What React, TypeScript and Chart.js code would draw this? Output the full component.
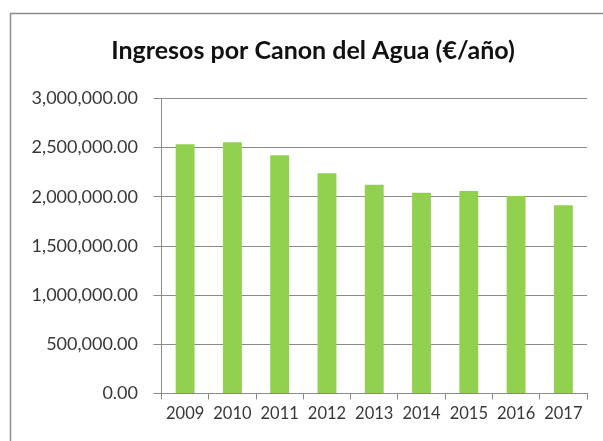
import React, { useEffect, useRef } from "react";
import { Chart, registerables } from "chart.js";

Chart.register(...registerables);

const TITLE = "Ingresos por Canon del Agua (€/año)";
const YEARS = ["2009", "2010", "2011", "2012", "2013", "2014", "2015", "2016", "2017"];
const INGRESOS = [2534000, 2554000, 2422000, 2239000, 2123000, 2042000, 2059000, 2008000, 1914000];
const Y_MIN = 0;
const Y_MAX = 3000000;
const Y_STEP = 500000;

const GRID = "#8a8a8a";
const LABEL = "#383838";
const BAR = "#92d050";

const framePlugin = {
  id: "frame",
  beforeDraw(chart: any) {
    const ctx = chart.ctx;
    ctx.save();
    ctx.fillStyle = "#ffffff";
    ctx.fillRect(0, 0, chart.width, chart.height);
    ctx.strokeStyle = "#8c8c8c";
    ctx.lineWidth = 1.5;
    ctx.beginPath();
    ctx.moveTo(10.5, chart.height);
    ctx.lineTo(10.5, 13.5);
    ctx.lineTo(chart.width, 13.5);
    ctx.stroke();
    ctx.restore();
  },
};

const titlePlugin = {
  id: "excelTitle",
  afterDraw(chart: any) {
    const ctx = chart.ctx;
    ctx.save();
    ctx.font = "bold 25px Lato";
    ctx.fillStyle = "#111111";
    ctx.textAlign = "center";
    ctx.textBaseline = "alphabetic";
    ctx.fillText(TITLE, 313, 58.5);
    ctx.restore();
  },
};

export default function App() {
  const ref = useRef<HTMLCanvasElement | null>(null);

  useEffect(() => {
    if (!ref.current) return;
    const chart = new Chart(ref.current, {
      type: "bar",
      data: {
        labels: YEARS,
        datasets: [
          {
            data: INGRESOS,
            backgroundColor: BAR,
            borderWidth: 0,
            barPercentage: 0.4,
            categoryPercentage: 1,
          },
        ],
      },
      options: {
        responsive: false,
        animation: false,
        devicePixelRatio: 1,
        layout: {
          autoPadding: false,
          padding: { left: 0, top: 98.5, right: 16, bottom: 0 },
        },
        plugins: {
          legend: { display: false },
          title: { display: false },
          tooltip: { enabled: false },
        },
        scales: {
          x: {
            offset: true,
            grid: {
              display: true,
              offset: true,
              drawOnChartArea: false,
              drawTicks: true,
              tickLength: 6,
              color: GRID,
            },
            border: { display: true, color: GRID },
            ticks: {
              color: LABEL,
              font: { family: "Lato", size: 16.5 },
              padding: 4,
              maxRotation: 0,
              autoSkip: false,
            },
            afterFit(scale: any) {
              scale.height = 47.5;
            },
          },
          y: {
            min: Y_MIN,
            max: Y_MAX,
            grid: {
              color: GRID,
              drawTicks: true,
              tickLength: 8,
            },
            border: { display: true, color: GRID },
            ticks: {
              stepSize: Y_STEP,
              color: LABEL,
              font: { family: "Lato", size: 18 },
              padding: 15.5,
              callback: (v: any) =>
                Number(v).toLocaleString("en-US", {
                  minimumFractionDigits: 2,
                  maximumFractionDigits: 2,
                }),
            },
            afterFit(scale: any) {
              scale.width = 161.5;
            },
          },
        },
      },
      plugins: [framePlugin, titlePlugin],
    });
    return () => chart.destroy();
  }, []);

  return (
    <div style={{ position: "absolute", left: 0, top: 0, width: 603, height: 441, background: "#fff" }}>
      <canvas ref={ref} width={603} height={441} style={{ display: "block" }} />
    </div>
  );
}
